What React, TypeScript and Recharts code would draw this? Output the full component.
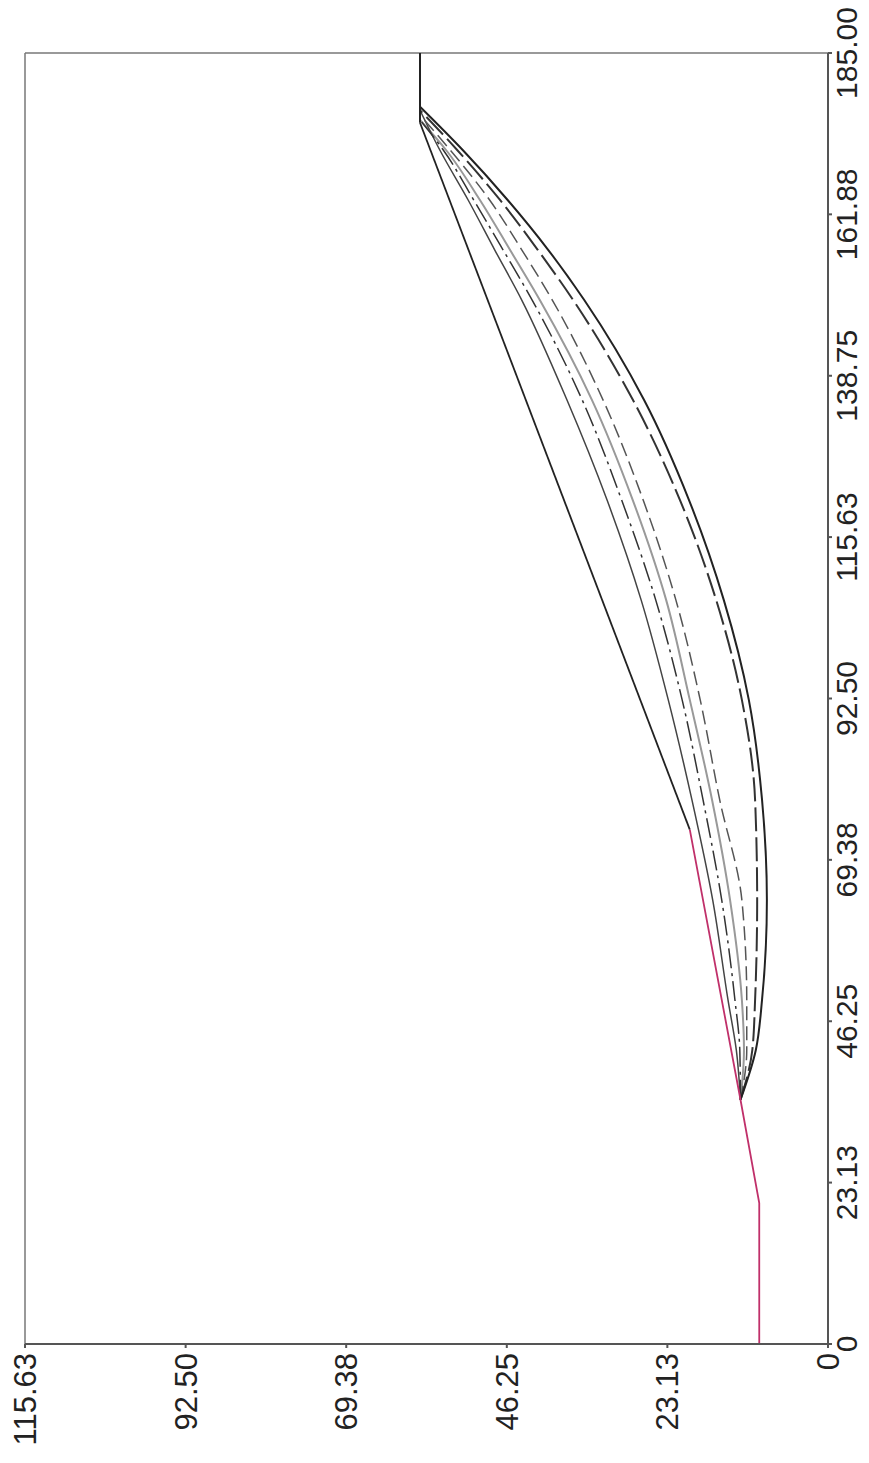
import React from 'react';
import { LineChart, Line, XAxis, YAxis, ReferenceLine } from 'recharts';

const xTicks = [0, 23.13, 46.25, 69.38, 92.5, 115.63, 138.75, 161.88, 185];
const yTicks = [0, 23.13, 46.25, 69.38, 92.5, 115.63];

const redX = [0, 20.2, 35.0, 73.7];
const redY = [9.9, 9.9, 12.6, 19.9];

const straightX = [73.7, 175.0];
const straightY = [19.9, 58.75];

const topX = [175.0, 185];
const topY = [58.75, 58.75];

const b1X = [35.0, 42.1, 49.3, 63.6, 78.0, 92.3, 106.6, 120.9, 135.3, 149.6, 156.8, 163.9, 171.1, 176.8];
const b1Y = [12.6, 13.2, 14.4, 16.6, 19.6, 23.0, 26.9, 31.8, 37.6, 44.1, 48.0, 51.8, 55.9, 58.75];

const b2X = [35.0, 42.1, 49.3, 63.6, 78.0, 92.3, 106.6, 120.9, 135.3, 149.6, 156.8, 163.9, 171.1, 175.4];
const b2Y = [12.6, 12.7, 13.4, 15.3, 18.0, 21.0, 24.8, 29.7, 35.4, 42.6, 46.8, 51.0, 55.4, 58.75];

const b3X = [35.0, 42.1, 49.3, 63.6, 78.0, 92.3, 106.6, 120.9, 135.3, 149.6, 156.8, 163.9, 171.1, 175.4];
const b3Y = [12.6, 12.1, 12.4, 14.1, 16.7, 19.9, 23.3, 28.1, 34.0, 41.5, 45.8, 50.1, 55.0, 58.75];

const b4X = [35.0, 42.1, 49.3, 63.6, 78.0, 92.3, 106.6, 120.9, 135.3, 149.6, 156.8, 163.9, 171.1, 176.1];
const b4Y = [12.6, 11.7, 11.7, 12.4, 15.6, 18.4, 21.9, 26.6, 32.4, 39.7, 44.1, 48.7, 54.4, 58.75];

const cX = [35.0, 42.1, 49.3, 63.6, 78.0, 92.3, 106.6, 120.9, 135.3, 149.6, 156.8, 163.9, 171.1, 176.8];
const cY = [12.6, 10.9, 10.5, 10.2, 10.5, 12.4, 16.1, 21.3, 28.1, 36.7, 41.8, 47.2, 53.4, 58.75];

const dX = [35.0, 42.1, 49.3, 63.6, 78.0, 92.3, 106.6, 120.9, 135.3, 149.6, 156.8, 163.9, 171.1, 177.3];
const dY = [12.6, 10.4, 9.5, 8.8, 9.5, 11.4, 15.0, 20.0, 26.5, 35.1, 40.3, 46.1, 52.6, 58.75];

const zip = (xs: number[], ys: number[]) => xs.map((x, i) => ({ x, y: ys[i] }));

const fmt = (v: number) => (v === 0 ? '0' : v.toFixed(2));

const fontFamily = '"Liberation Sans", Arial, sans-serif';
const xTickStyle = { fontSize: 30, fill: '#222', fontFamily };
const yTickStyle = { fontSize: 31, fill: '#222', fontFamily };

export default function App() {
  return (
    <div style={{ position: 'absolute', left: 0, top: 0, width: 869, height: 1463, overflow: 'hidden', background: '#fff' }}>
      <div
        style={{
          position: 'absolute',
          left: 0,
          top: 0,
          width: 1463,
          height: 869,
          transformOrigin: '0 0',
          transform: 'translate(0px, 1463px) rotate(-90deg)',
        }}
      >
        <LineChart width={1463} height={869} margin={{ top: 25, right: 53, bottom: 0, left: 0 }}>
          <XAxis
            type="number"
            dataKey="x"
            domain={[0, 185]}
            ticks={xTicks}
            interval={0}
            tickFormatter={fmt}
            height={41}
            tickSize={4}
            tickMargin={4}
            tick={xTickStyle}
            stroke="#555"
            strokeWidth={2}
            allowDataOverflow
          />
          <YAxis
            type="number"
            dataKey="y"
            domain={[0, 115.63]}
            ticks={yTicks}
            interval={0}
            tickFormatter={fmt}
            width={119}
            tickSize={4}
            tickMargin={5}
            tick={yTickStyle}
            stroke="#555"
            strokeWidth={2}
            allowDataOverflow
          />
          <ReferenceLine y={115.63} stroke="#777" strokeWidth={1.5} />
          <ReferenceLine x={185} stroke="#777" strokeWidth={1.5} />
          <Line type="monotone" data={zip(b3X, b3Y)} dataKey="y" stroke="#999" strokeWidth={2} dot={false} isAnimationActive={false} />
          <Line type="monotone" data={zip(b1X, b1Y)} dataKey="y" stroke="#444" strokeWidth={1.5} dot={false} isAnimationActive={false} />
          <Line type="monotone" data={zip(b2X, b2Y)} dataKey="y" stroke="#333" strokeWidth={1.5} strokeDasharray="20 5 3 5" dot={false} isAnimationActive={false} />
          <Line type="monotone" data={zip(b4X, b4Y)} dataKey="y" stroke="#555" strokeWidth={1.5} strokeDasharray="14 6" dot={false} isAnimationActive={false} />
          <Line type="monotone" data={zip(cX, cY)} dataKey="y" stroke="#333" strokeWidth={2} strokeDasharray="24 6" dot={false} isAnimationActive={false} />
          <Line type="monotone" data={zip(dX, dY)} dataKey="y" stroke="#222" strokeWidth={2} dot={false} isAnimationActive={false} />
          <Line data={zip(straightX, straightY)} dataKey="y" stroke="#222" strokeWidth={1.8} dot={false} isAnimationActive={false} />
          <Line data={zip(topX, topY)} dataKey="y" stroke="#222" strokeWidth={2} dot={false} isAnimationActive={false} />
          <Line data={zip(redX, redY)} dataKey="y" stroke="#c0306a" strokeWidth={1.8} dot={false} isAnimationActive={false} />
        </LineChart>
      </div>
    </div>
  );
}
